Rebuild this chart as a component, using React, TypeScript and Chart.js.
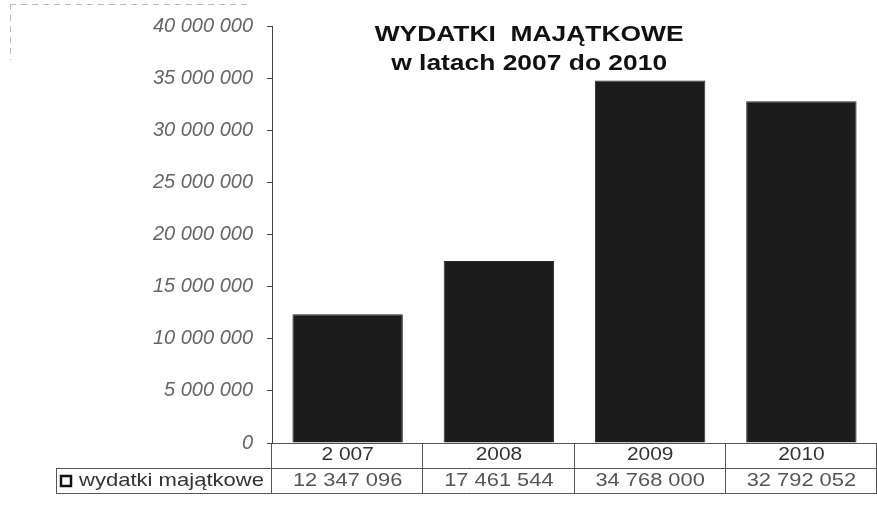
import React, { useEffect, useRef } from "react";
import { Chart, registerables } from "chart.js";

Chart.register(...registerables);

const categories = ["2 007", "2008", "2009", "2010"];
const seriesLabel = "wydatki majątkowe";
const values = [12347096, 17461544, 34768000, 32792052];
const titleLines = ["WYDATKI  MAJĄTKOWE", "w latach 2007 do 2010"];
const yMax = 40000000;
const yStep = 5000000;

const fmt = (v: number) => String(Math.round(v)).replace(/\B(?=(\d{3})+(?!\d))/g, " ");

const FONT = "'Liberation Sans', Arial, sans-serif";

function drawText(ctx: any, text: string, x: number, y: number, align: string, font: string, color: string, sx: number) {
  ctx.save();
  ctx.font = font;
  ctx.fillStyle = color;
  ctx.textAlign = align;
  ctx.textBaseline = "middle";
  ctx.translate(x, y);
  ctx.scale(sx, 1);
  ctx.fillText(text, 0, 0);
  ctx.restore();
}

const tablePlugin = {
  id: "tablePlugin",
  afterDraw(chart: any) {
    const { ctx, chartArea: a } = chart;
    const n = categories.length;
    const colW = (a.right - a.left) / n;
    const top = a.bottom;
    const r1 = top + 25;
    const r2 = r1 + 25;
    const legLeft = a.left - 216;
    ctx.save();
    ctx.strokeStyle = "#555";
    ctx.lineWidth = 1;
    ctx.beginPath();
    ctx.moveTo(a.left, top + 0.5);
    ctx.lineTo(a.right, top + 0.5);
    ctx.moveTo(legLeft, r1 + 0.5);
    ctx.lineTo(a.right, r1 + 0.5);
    ctx.moveTo(legLeft, r2 + 0.5);
    ctx.lineTo(a.right, r2 + 0.5);
    ctx.moveTo(legLeft + 0.5, r1);
    ctx.lineTo(legLeft + 0.5, r2);
    for (let i = 0; i <= n; i++) {
      const x = Math.round(a.left + i * colW) - 0.5;
      ctx.moveTo(x, top);
      ctx.lineTo(x, r2);
    }
    ctx.stroke();

    // faint scan frame
    ctx.strokeStyle = "#bbb";
    ctx.setLineDash([6, 5]);
    ctx.beginPath();
    ctx.moveTo(10, 4.5);
    ctx.lineTo(a.left - 20, 4.5);
    ctx.moveTo(10.5, 4);
    ctx.lineTo(10.5, 60);
    ctx.stroke();
    ctx.setLineDash([]);

    for (let i = 0; i < n; i++) {
      const cx = chart.scales.x.getPixelForValue(i);
      drawText(ctx, categories[i], cx, top + 12, "center", `19px ${FONT}`, "#333", 1.1);
      drawText(ctx, fmt(values[i]), cx, r1 + 13, "center", `19px ${FONT}`, "#555", 1.15);
    }
    // legend cell
    ctx.strokeStyle = "#111";
    ctx.lineWidth = 2.5;
    ctx.strokeRect(legLeft + 5, r1 + 8, 10, 10);
    drawText(ctx, seriesLabel, legLeft + 23, r1 + 13, "left", `19px ${FONT}`, "#333", 1.16);

    // title
    const tx = a.left + (a.right - a.left) * 0.425;
    drawText(ctx, titleLines[0], tx, 35, "center", `bold 22px ${FONT}`, "#111", 1.2);
    drawText(ctx, titleLines[1], tx, 64, "center", `bold 22px ${FONT}`, "#111", 1.2);
    ctx.restore();
  },
};

export default function App() {
  const ref = useRef<HTMLCanvasElement>(null);
  useEffect(() => {
    document.body.style.margin = "0";
    const chart = new Chart(ref.current!, {
      type: "bar",
      data: {
        labels: categories,
        datasets: [
          {
            label: seriesLabel,
            data: values,
            backgroundColor: "#1c1c1c",
            borderColor: "#2a2a2a",
            borderWidth: 1,
            categoryPercentage: 1,
            barPercentage: 0.73,
          },
        ],
      },
      options: {
        animation: false,
        responsive: false,
        maintainAspectRatio: false,
        layout: { padding: { top: 25, bottom: 73, left: 0, right: 0 } },
        plugins: { legend: { display: false }, tooltip: { enabled: false }, title: { display: false } },
        scales: {
          x: {
            ticks: { display: false },
            grid: { display: false },
            border: { display: false },
          },
          y: {
            min: 0,
            max: yMax,
            afterFit: (s: any) => {
              s.width = 272;
            },
            ticks: {
              stepSize: yStep,
              padding: 14,
              color: "#666",
              font: { family: FONT, size: 20, style: "italic" },
              callback: (v: any) => fmt(Number(v)),
            },
            grid: { drawOnChartArea: false, drawTicks: true, tickLength: 5, color: "#444" },
            border: { display: true, color: "#444", width: 1 },
          },
        },
      },
      plugins: [tablePlugin],
    });
    return () => chart.destroy();
  }, []);
  return (
    <div style={{ width: 877, height: 524 }}>
      <canvas ref={ref} width={877} height={524} style={{ display: "block" }} />
    </div>
  );
}
